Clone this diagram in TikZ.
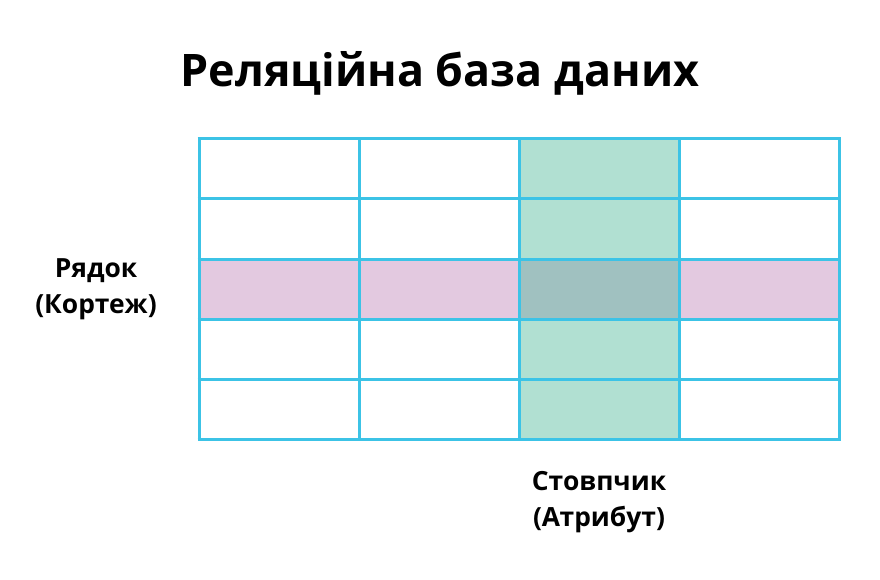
\documentclass[tikz,border=0pt]{standalone}
\usepackage{fontspec}
\setmainfont{Open Sans}
\definecolor{gridline}{HTML}{3CC3E6}
\definecolor{rowfill}{HTML}{E3C9E0}
\definecolor{colfill}{HTML}{B1E0D2}
\definecolor{bothfill}{HTML}{A0C1C0}
\begin{document}
\begin{tikzpicture}[x=1bp,y=-1bp,
    label/.style ={font=\bfseries\fontsize{26.5}{36}\selectfont, align=center},
    heading/.style ={font=\bfseries\fontsize{45}{50}\selectfont}]
   \useasboundingbox (0,0) rectangle (880,580);

   % highlighted row and column
   \fill[rowfill] (199,259) rectangle (839,319);
   \fill[colfill] (519,139) rectangle (679,439);
   \fill[bothfill] (519,259) rectangle (679,319);

   % grid
   \foreach \x in {199,359,519,679,839}
      \draw[gridline, line width=3bp] (\x,139) -- (\x,439);
   \foreach \y in {139,199,259,319,379,439}
      \draw[gridline, line width=3bp] (197.5,\y) -- (840.5,\y);

   \node[heading] (title) at (440,73) {Реляційна база даних};
   \node[label] (row) at (96,289) {Рядок\\(Кортеж)};
   \node[label] (column) at (599,502) {Стовпчик\\(Атрибут)};
 \end{tikzpicture}
\end{document}
